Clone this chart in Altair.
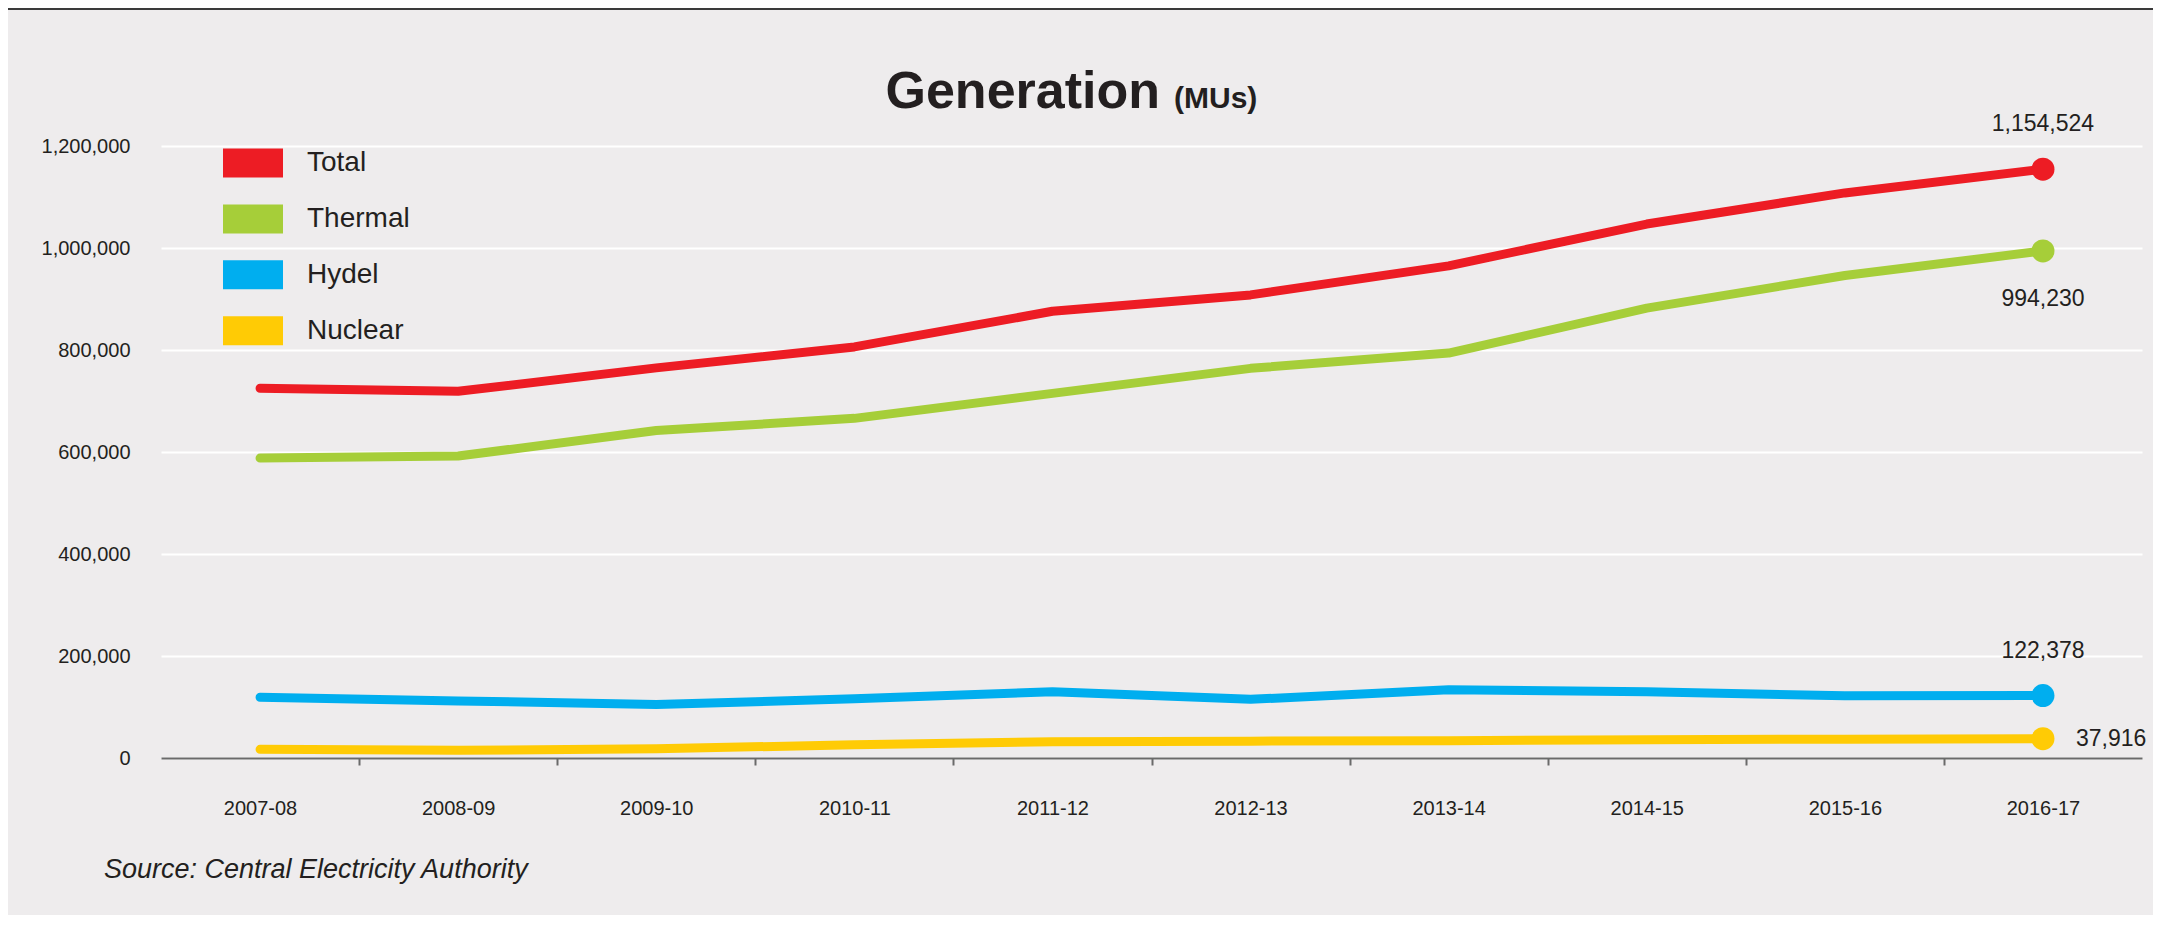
import json
import altair as alt
import pandas as pd

# ---------------- data ----------------
years = ["2007-08", "2008-09", "2009-10", "2010-11", "2011-12",
         "2012-13", "2013-14", "2014-15", "2015-16", "2016-17"]
total = [725000, 719000, 765000, 806000, 876000, 908000, 965000, 1047000, 1108000, 1154524]
thermal = [588000, 592000, 642000, 666000, 715000, 764000, 794000, 882000, 946000, 994230]
hydel = [119000, 112000, 105000, 116000, 130000, 115000, 134000, 130000, 122000, 122378]
nuclear = [17000, 15000, 18000, 26000, 32000, 33000, 34000, 36000, 37000, 37916]

series_names = ["Total", "Thermal", "Hydel", "Nuclear"]
series_colors = ["#ED1C24", "#A6CE39", "#00AEEF", "#FFCB05"]
y_ticks = [0, 200000, 400000, 600000, 800000, 1000000, 1200000]

title_text = "Generation"
unit_text = "(MUs)"
source_text = "Source: Central Electricity Authority"

rows = []
for name, col, vals in zip(series_names, series_colors, [total, thermal, hydel, nuclear]):
    for i, (yr, v) in enumerate(zip(years, vals)):
        rows.append({"year": yr, "idx": i, "series": name, "hex": col, "value": v})
df = pd.DataFrame(rows)
last = len(years) - 1

FONT = "Liberation Sans, Arial, Helvetica, sans-serif"
TXT = "#231F20"

x_enc = alt.X(
    "idx:Q",
    scale=alt.Scale(domain=[-0.5, last + 0.5], nice=False, zero=False),
    axis=alt.Axis(
        values=[i / 2 for i in range(2 * last + 1)],
        labelExpr="datum.value % 1 === 0 ? " + json.dumps(years) + "[datum.value] : ''",
        tickOpacity={"condition": {"test": "datum.value % 1 === 0", "value": 0}, "value": 1},
        grid=False,
        domainColor="#6a6a6a", domainWidth=2,
        tickColor="#6a6a6a", tickWidth=2, tickSize=7,
        labelFont=FONT, labelFontSize=20, labelColor=TXT,
        labelPadding=33, labelOverlap=False, labelFlush=False, labelBound=False,
    ),
    title=None,
)
y_enc = alt.Y(
    "value:Q",
    scale=alt.Scale(domain=[0, 1200000], nice=False),
    axis=alt.Axis(
        values=y_ticks, format=",.0f", grid=True, gridColor="#ffffff", gridWidth=2,
        domain=False, ticks=False, labelFont=FONT, labelFontSize=20,
        labelColor=TXT, labelPadding=31,
    ),
    title=None,
)
color_scale = alt.Scale(domain=series_names, range=series_colors)

base = alt.Chart(df)

lines = base.mark_line(strokeWidth=9, strokeCap="round", strokeJoin="round").encode(
    x=x_enc, y=y_enc,
    stroke=alt.Stroke("hex:N", scale=None),
    detail="series:N",
)

points = base.mark_circle(size=530, opacity=1).encode(
    x=x_enc, y=y_enc,
    fill=alt.Fill(
        "series:N", scale=color_scale,
        legend=alt.Legend(
            orient="none", legendX=67, legendY=-8, title=None,
            symbolType="M-1.2,-0.58H1.2V0.58H-1.2Z", symbolSize=2500,
            symbolStrokeWidth=0, symbolOpacity=1,
            labelFont=FONT, labelFontSize=28, labelColor=TXT,
            labelOffset=29, rowPadding=15.9, padding=0,
        ),
    ),
).transform_filter(alt.datum.idx == last)

def end_label(name, **kw):
    return base.mark_text(font=FONT, fontSize=23, color=TXT, **kw).encode(
        x=x_enc, y=y_enc, text=alt.Text("value:Q", format=",")
    ).transform_filter((alt.datum.idx == last) & (alt.datum.series == name))

lab_total = end_label("Total", dy=-45, align="center", baseline="middle")
lab_thermal = end_label("Thermal", dy=48, align="center", baseline="middle")
lab_hydel = end_label("Hydel", dy=-45, align="center", baseline="middle")
lab_nuclear = end_label("Nuclear", dx=33, align="left", baseline="middle")

title_mark = alt.Chart(pd.DataFrame({"t": [title_text]})).mark_text(
    font=FONT, fontSize=52, fontWeight="bold", color=TXT, align="right", baseline="alphabetic"
).encode(x=alt.value(999), y=alt.value(-38), text="t:N")

unit_mark = alt.Chart(pd.DataFrame({"t": [unit_text]})).mark_text(
    font=FONT, fontSize=30, fontWeight="bold", color=TXT, align="left", baseline="alphabetic"
).encode(x=alt.value(1013), y=alt.value(-38), text="t:N")

source_mark = alt.Chart(pd.DataFrame({"t": [source_text]})).mark_text(
    font=FONT, fontSize=27, fontStyle="italic", color=TXT, align="left", baseline="middle"
).encode(x=alt.value(-57), y=alt.value(724), text="t:N")

top_rule = alt.Chart(pd.DataFrame({"t": [0]})).mark_rule(color="#3a3a3a", strokeWidth=2).encode(
    x=alt.value(-153), x2=alt.value(1992), y=alt.value(-137)
)

chart = alt.layer(
    top_rule, lines, points, lab_total, lab_thermal, lab_hydel, lab_nuclear,
    title_mark, unit_mark, source_mark,
).properties(
    width=1981, height=612,
    background="#EEECED",
    padding={"left": 153, "top": 138, "right": 11, "bottom": 157},
    autosize=alt.AutoSizeParams(type="none"),
).configure_view(stroke=None)

chart.save("out.html", embed_options={"renderer": "svg", "actions": False})
